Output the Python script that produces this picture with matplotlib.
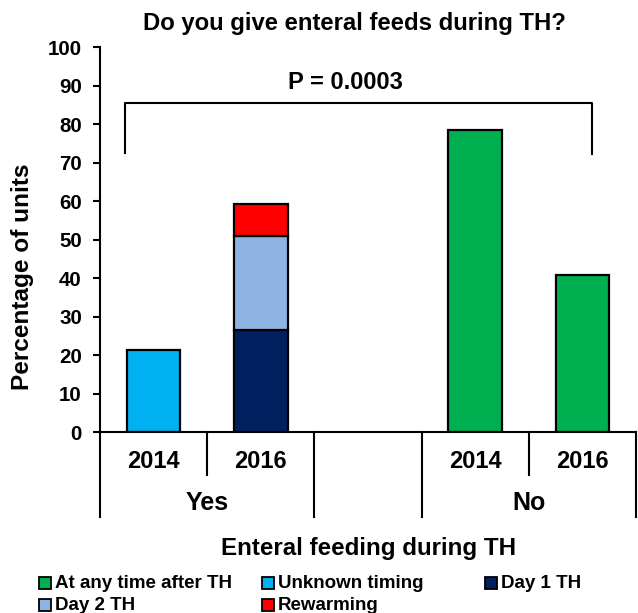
import matplotlib
matplotlib.use("Agg")
import matplotlib.pyplot as plt
from matplotlib.patches import Rectangle

plt.rcParams["font.family"] = ["Liberation Sans", "DejaVu Sans"]
plt.rcParams["font.weight"] = "bold"

# Data (percentage of units)
slots = ["Yes 2014", "Yes 2016", "", "No 2014", "No 2016"]
year_labels = ["2014", "2016", "", "2014", "2016"]
group_labels = ["Yes", "No"]
any_time = [0, 0, 0, 78.6, 40.8]
unknown = [21.4, 0, 0, 0, 0]
day1 = [0, 26.5, 0, 0, 0]
day2 = [0, 24.5, 0, 0, 0]
rewarming = [0, 8.2, 0, 0, 0]

legend_labels = ["At any time after TH", "Unknown timing", "Day 1 TH",
                 "Day 2 TH", "Rewarming"]
colors = ["#00B050", "#00B0F0", "#002060", "#8EB4E3", "#FF0000"]

fig = plt.figure(figsize=(6.38, 6.13), dpi=100)
ax = fig.add_axes([0.1567, 0.2945, 0.8403, 0.6288])

x = list(range(len(slots)))
bar_kw = dict(width=0.5, edgecolor="black", linewidth=1.6)
series = [any_time, unknown, day1, day2, rewarming]
bottom = [0.0] * len(slots)
for vals, col in zip(series, colors):
    idx = [i for i, v in enumerate(vals) if v > 0]
    ax.bar([x[i] for i in idx], [vals[i] for i in idx],
           bottom=[bottom[i] for i in idx], color=col, **bar_kw)
    bottom = [b + v for b, v in zip(bottom, vals)]

ax.set_xlim(-0.5, 4.5)
ax.set_ylim(0, 100)
ax.set_yticks(range(0, 101, 10))
ax.set_xticks([])
ax.tick_params(axis="y", direction="out", length=5, width=1.5,
               labelsize=14.8, pad=8)
for s in ["top", "right"]:
    ax.spines[s].set_visible(False)
ax.spines["left"].set_linewidth(1.5)
ax.spines["bottom"].set_linewidth(1.5)

# multi-level category axis
trans = ax.get_xaxis_transform()
for xs in [-0.5, 1.5, 2.5, 4.5]:
    ax.plot([xs, xs], [0, -0.219], color="black", lw=1.5,
            transform=trans, clip_on=False)
for xs in [0.5, 3.5]:
    ax.plot([xs, xs], [0, -0.110], color="black", lw=1.5,
            transform=trans, clip_on=False)
for xi, lab in zip(x, year_labels):
    ax.text(xi, -0.0765, lab, transform=trans, ha="center", va="center",
            fontsize=17, fontweight="bold")
ax.text(0.5, -0.183, group_labels[0], transform=trans, ha="center",
        va="center", fontsize=18, fontweight="bold")
ax.text(3.5, -0.183, group_labels[1], transform=trans, ha="center",
        va="center", fontsize=18, fontweight="bold")

# significance bracket
ax.plot([-0.267, -0.267, 4.086, 4.086], [72.6, 85.6, 85.6, 72.3],
        color="black", lw=1.5, clip_on=False)
ax.text(1.79, 90.8, "P = 0.0003", ha="center", va="center",
        fontsize=17, fontweight="bold")

fig.text(0.556, 0.961, "Do you give enteral feeds during TH?", ha="center",
         va="center", fontsize=17.2, fontweight="bold")
fig.text(0.578, 0.106, "Enteral feeding during TH", ha="center",
         va="center", fontsize=17.4, fontweight="bold")
fig.text(0.0345, 0.548, "Percentage of units", rotation=90, ha="center",
         va="center", fontsize=17.6, fontweight="bold")

# legend drawn by hand
leg_pos = [(39, 583), (262, 583), (485, 583), (39, 605), (262, 605)]
W, H = 638.0, 613.0
for (px, py), lab, col in zip(leg_pos, legend_labels, colors):
    fig.add_artist(Rectangle((px / W, (H - py - 6) / H), 12 / W, 12 / H,
                             transform=fig.transFigure, facecolor=col,
                             edgecolor="black", linewidth=1.3))
    fig.text((px + 16) / W, (H - py) / H, lab, ha="left", va="center",
             fontsize=13.5, fontweight="bold")

fig.savefig("out.png", dpi=100)
